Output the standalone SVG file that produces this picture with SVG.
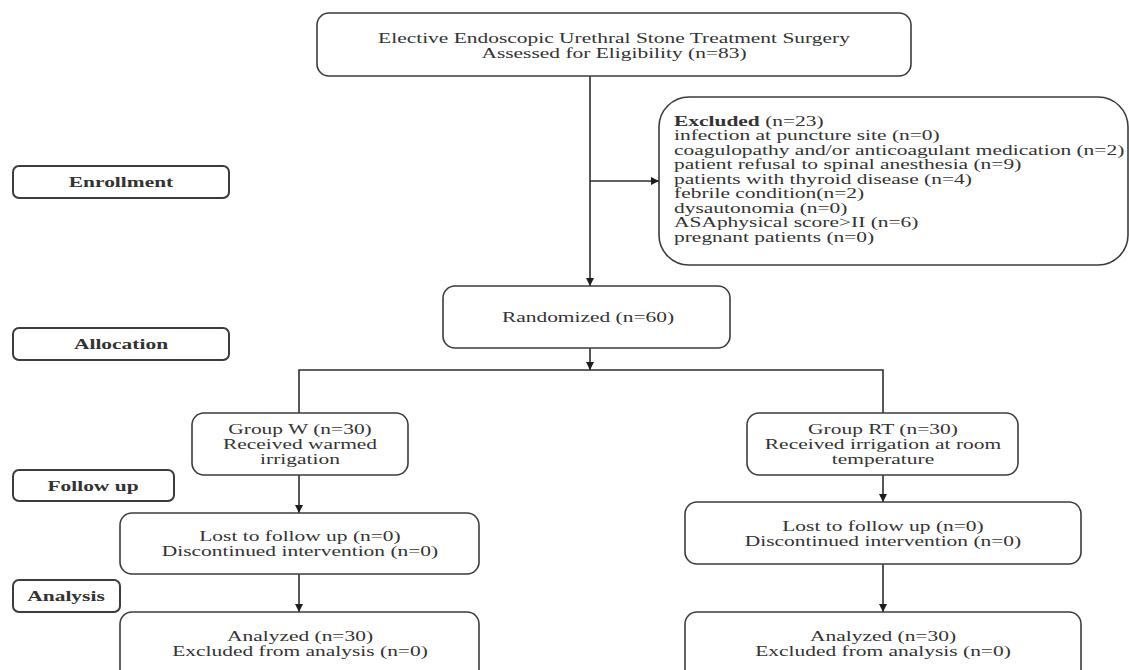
<svg xmlns="http://www.w3.org/2000/svg" width="1129" height="670" viewBox="0 0 1129 670">
<style>
.box{fill:#ffffff;stroke:#3c3c3c;stroke-width:1.6}
.lbl{fill:#ffffff;stroke:#3c3c3c;stroke-width:2}
.t{font-family:"Liberation Serif","Times New Roman",serif;font-size:15px;fill:#333333}
.c{text-anchor:middle}
.b{font-weight:bold}
.ln{fill:none;stroke:#2e2e2e;stroke-width:1.6}
</style>
<defs>
<marker id="ah" viewBox="0 0 10 10" refX="10" refY="5" markerWidth="9" markerHeight="8" markerUnits="userSpaceOnUse" orient="auto">
<path d="M0,0 L10,5 L0,10 z" fill="#1e1e1e"/>
</marker>
</defs>
<rect width="1129" height="670" fill="#ffffff"/>

<g id="connectors">
<line class="ln" x1="590" y1="76" x2="590" y2="286" marker-end="url(#ah)"/>
<line class="ln" x1="590" y1="181" x2="659" y2="181" marker-end="url(#ah)"/>
<line class="ln" x1="590" y1="348" x2="590" y2="370" marker-end="url(#ah)"/>
<path class="ln" d="M299,413 V370 H883 V413"/>
<line class="ln" x1="299" y1="475" x2="299" y2="513" marker-end="url(#ah)"/>
<line class="ln" x1="883" y1="475" x2="883" y2="502" marker-end="url(#ah)"/>
<line class="ln" x1="299" y1="574" x2="299" y2="612" marker-end="url(#ah)"/>
<line class="ln" x1="883" y1="564" x2="883" y2="612" marker-end="url(#ah)"/>
</g>

<g id="assessed">
<rect class="box" x="317" y="13" width="594" height="63" rx="12"/>
<text class="t c" transform="translate(614 43) scale(1.43 1)">Elective Endoscopic Urethral Stone Treatment Surgery</text>
<text class="t c" transform="translate(614 58) scale(1.43 1)">Assessed for Eligibility (n=83)</text>
</g>

<g id="excluded">
<rect class="box" x="659" y="97" width="469" height="168" rx="30"/>
<text class="t" transform="translate(674 126) scale(1.43 1)"><tspan class="b">Excluded</tspan> (n=23)<tspan x="0" dy="14.5">infection at puncture site (n=0)</tspan><tspan x="0" dy="14.5">coagulopathy and/or anticoagulant medication (n=2)</tspan><tspan x="0" dy="14.5">patient refusal to spinal anesthesia (n=9)</tspan><tspan x="0" dy="14.5">patients with thyroid disease (n=4)</tspan><tspan x="0" dy="14.5">febrile condition(n=2)</tspan><tspan x="0" dy="14.5">dysautonomia (n=0)</tspan><tspan x="0" dy="14.5">ASAphysical score&gt;II (n=6)</tspan><tspan x="0" dy="14.5">pregnant patients (n=0)</tspan></text>
</g>

<g id="enrollment">
<rect class="lbl" x="13" y="166" width="216" height="32" rx="6"/>
<text class="t c b" transform="translate(121 187) scale(1.43 1)">Enrollment</text>
</g>

<g id="randomized">
<rect class="box" x="443" y="286" width="287" height="62" rx="12"/>
<text class="t c" transform="translate(588 322) scale(1.43 1)">Randomized (n=60)</text>
</g>

<g id="allocation">
<rect class="lbl" x="13" y="328" width="216" height="32" rx="6"/>
<text class="t c b" transform="translate(121 349) scale(1.43 1)">Allocation</text>
</g>

<g id="group-w">
<rect class="box" x="192" y="413" width="216" height="62" rx="12"/>
<text class="t c" transform="translate(300 434) scale(1.43 1)">Group W (n=30)<tspan x="0" dy="15">Received warmed</tspan><tspan x="0" dy="15">irrigation</tspan></text>
</g>

<g id="group-rt">
<rect class="box" x="747" y="413" width="271" height="62" rx="12"/>
<text class="t c" transform="translate(883 434) scale(1.43 1)">Group RT (n=30)<tspan x="0" dy="15">Received irrigation at room</tspan><tspan x="0" dy="15">temperature</tspan></text>
</g>

<g id="follow-up">
<rect class="lbl" x="13" y="470" width="161" height="31" rx="6"/>
<text class="t c b" transform="translate(93 491) scale(1.43 1)">Follow up</text>
</g>

<g id="lost-w">
<rect class="box" x="120" y="513" width="359" height="61" rx="12"/>
<text class="t c" transform="translate(300 541) scale(1.43 1)">Lost to follow up (n=0)<tspan x="0" dy="15">Discontinued intervention (n=0)</tspan></text>
</g>

<g id="lost-rt">
<rect class="box" x="685" y="502" width="396" height="62" rx="12"/>
<text class="t c" transform="translate(883 531) scale(1.43 1)">Lost to follow up (n=0)<tspan x="0" dy="15">Discontinued intervention (n=0)</tspan></text>
</g>

<g id="analysis">
<rect class="lbl" x="13" y="580" width="107" height="32" rx="6"/>
<text class="t c b" transform="translate(66 601) scale(1.43 1)">Analysis</text>
</g>

<g id="analyzed-w">
<rect class="box" x="120" y="612" width="359" height="70" rx="12"/>
<text class="t c" transform="translate(300 641) scale(1.43 1)">Analyzed (n=30)<tspan x="0" dy="15">Excluded from analysis (n=0)</tspan></text>
</g>

<g id="analyzed-rt">
<rect class="box" x="685" y="612" width="396" height="70" rx="12"/>
<text class="t c" transform="translate(883 641) scale(1.43 1)">Analyzed (n=30)<tspan x="0" dy="15">Excluded from analysis (n=0)</tspan></text>
</g>
</svg>
